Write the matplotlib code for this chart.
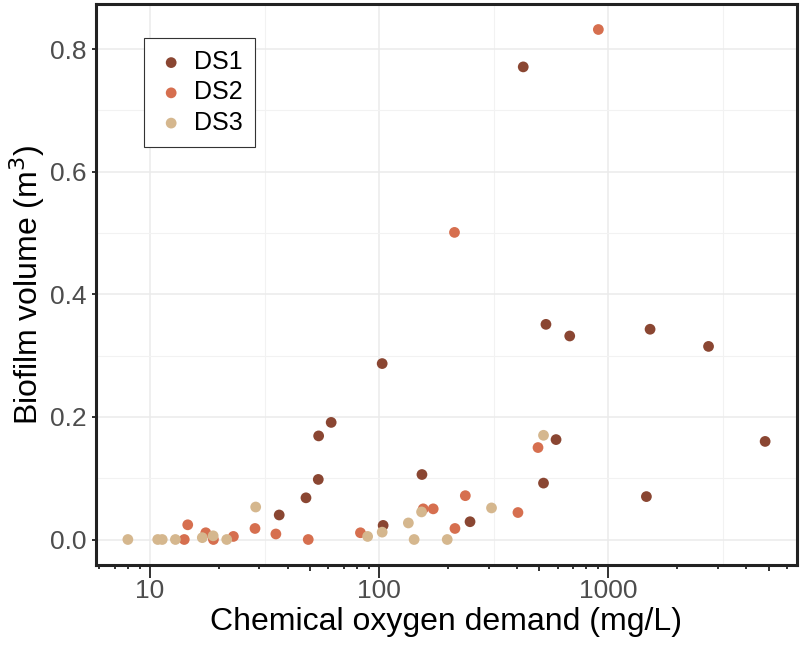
import numpy as np
import matplotlib.pyplot as plt
import matplotlib.transforms as mtransforms

plt.rcParams['font.family'] = ['Liberation Sans', 'DejaVu Sans']

# data
ds1_cod = [36.6, 47.9, 54.2, 54.4, 61.7, 104, 103, 153.6, 249, 425, 521, 534, 591, 678, 1465, 1520, 2735, 4830]
ds1_vol = [0.040, 0.068, 0.098, 0.169, 0.191, 0.023, 0.287, 0.106, 0.029, 0.771, 0.092, 0.351, 0.163, 0.332, 0.070, 0.343, 0.315, 0.160]

ds2_cod = [14.1, 14.6, 17.5, 18.9, 23.1, 28.7, 35.4, 49, 82.8, 155.6, 172, 213, 214, 237.5, 403, 493, 904]
ds2_vol = [0.0, 0.024, 0.011, 0.0, 0.005, 0.018, 0.009, 0.0, 0.011, 0.050, 0.050, 0.501, 0.018, 0.0715, 0.044, 0.150, 0.832]

ds3_cod = [8.0, 10.8, 11.3, 12.9, 16.9, 18.85, 21.6, 28.9, 89, 103, 134, 142, 153, 198, 309, 521]
ds3_vol = [0.0, 0.0, 0.0, 0.0, 0.003, 0.006, 0.0, 0.053, 0.005, 0.012, 0.027, 0.0, 0.045, 0.0, 0.0515, 0.170]

labels = ['DS1', 'DS2', 'DS3']
colors = ['#8a4632', '#d66f4f', '#d5b78e']

fig = plt.figure(figsize=(8, 6.52), dpi=100)
ax = fig.add_axes([96 / 800, 87 / 652, 701 / 800, 561 / 652])
ax.set_xscale('log')

# ggplot style 5% expansion
all_x = np.log10(ds1_cod + ds2_cod + ds3_cod)
all_y = np.array(ds1_vol + ds2_vol + ds3_vol)
rx = all_x.max() - all_x.min()
ry = all_y.max() - all_y.min()
xlo, xhi = 10 ** (all_x.min() - 0.05 * rx), 10 ** (all_x.max() + 0.05 * rx)
ylo, yhi = all_y.min() - 0.05 * ry, all_y.max() + 0.05 * ry

# grid (major + minor like ggplot)
for v in [10, 100, 1000]:
    ax.axvline(v, color='#ebebeb', lw=1.1, zorder=0)
for v in [10 ** 1.5, 10 ** 2.5, 10 ** 3.5]:
    ax.axvline(v, color='#f2f2f2', lw=0.8, zorder=0)
for v in np.arange(0, 0.81, 0.2):
    ax.axhline(v, color='#ebebeb', lw=1.1, zorder=0)
for v in np.arange(0.1, 0.81, 0.2):
    ax.axhline(v, color='#f2f2f2', lw=0.8, zorder=0)

for xs, ys, c, lab in zip([ds1_cod, ds2_cod, ds3_cod], [ds1_vol, ds2_vol, ds3_vol], colors, labels):
    ax.scatter(xs, ys, s=60, color=c, edgecolors='none', label=lab, zorder=3)

# axes ticks
ax.set_yticks([0.0, 0.2, 0.4, 0.6, 0.8])
ax.set_yticklabels(['0.0', '0.2', '0.4', '0.6', '0.8'])
ax.set_xticks([10, 100, 1000])
ax.set_xticklabels(['10', '100', '1000'])
minors = [m * 10 ** e for e in range(0, 4) for m in [2, 3, 4, 6, 7, 8, 9]]
minors = [m for m in minors if xlo < m < xhi]
ax.set_xticks(minors, minor=True)
ax.set_xlim(xlo, xhi)
ax.set_ylim(ylo, yhi)
ax.tick_params(axis='x', which='major', length=9, width=1.3, color='#222222',
               labelsize=19, labelcolor='#4d4d4d', pad=1)
ax.tick_params(axis='x', which='minor', length=3, width=1.3, color='#222222')
ax.tick_params(axis='y', which='major', length=3, width=1.3, color='#222222',
               labelsize=19, labelcolor='#4d4d4d', pad=4)
ax.tick_params(axis='y', which='minor', left=False)

# mid-length ticks at the 5s
blend = mtransforms.blended_transform_factory(ax.transData, ax.transAxes)
fives = [f for f in [5, 50, 500, 5000] if xlo < f < xhi]
ax.vlines(fives, 0, -6 / 561, transform=blend, color='#222222', lw=1.3, clip_on=False)
ax.set_xlim(xlo, xhi)

for sp in ax.spines.values():
    sp.set_linewidth(2.2)
    sp.set_color('#222222')

ax.set_xlabel('Chemical oxygen demand (mg/L)', fontsize=23, labelpad=3)
ax.set_ylabel('Biofilm volume (m$^3$)', fontsize=23, labelpad=2)

leg = ax.legend(loc='upper left', bbox_to_anchor=(0.068, 0.94), fontsize=18,
                frameon=True, fancybox=False, edgecolor='#333333', framealpha=1,
                handletextpad=0.3, borderpad=0.5, labelspacing=0.25,
                handlelength=1.2, borderaxespad=0)
leg.get_frame().set_linewidth(0.8)

fig.savefig('out.png', dpi=100)
